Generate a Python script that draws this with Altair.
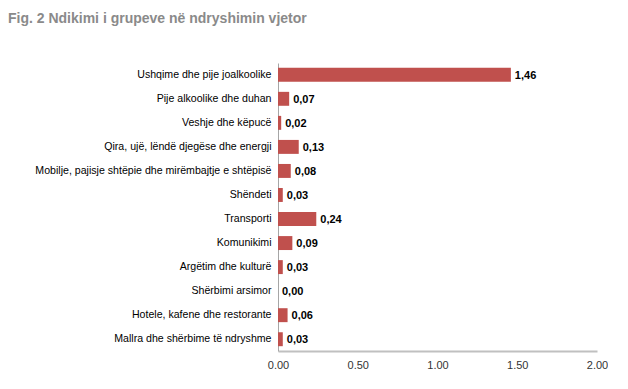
import altair as alt
import pandas as pd

categories = [
    "Ushqime dhe pije joalkoolike",
    "Pije alkoolike dhe duhan",
    "Veshje dhe këpucë",
    "Qira, ujë, lëndë djegëse dhe energji",
    "Mobilje, pajisje shtëpie dhe mirëmbajtje e shtëpisë",
    "Shëndeti",
    "Transporti",
    "Komunikimi",
    "Argëtim dhe kulturë",
    "Shërbimi arsimor",
    "Hotele, kafene dhe restorante",
    "Mallra dhe shërbime të ndryshme",
]
values = [1.46, 0.07, 0.02, 0.13, 0.08, 0.03, 0.24, 0.09, 0.03, 0.00, 0.06, 0.03]
x_ticks = [0, 0.5, 1.0, 1.5, 2.0]

df = pd.DataFrame({"cat": categories, "v": values})

FONT = "Liberation Sans"

base = alt.Chart(df).transform_calculate(
    label="replace(format(datum.v, '.2f'), '.', ',')"
)

y_enc = alt.Y(
    "cat:N",
    sort=categories,
    title=None,
    scale=alt.Scale(paddingInner=0.42, paddingOuter=0.2),
    axis=alt.Axis(
        ticks=False,
        domainColor="#a6a6a6",
        domainWidth=1,
        labelFont=FONT,
        labelFontSize=10.6,
        labelColor="#000000",
        labelPadding=7,
        labelLimit=300,
        minExtent=270,
        maxExtent=270,
    ),
)

x_enc = alt.X(
    "v:Q",
    title=None,
    scale=alt.Scale(domain=[0, 2]),
    axis=alt.Axis(
        values=x_ticks,
        format=".2f",
        grid=False,
        ticks=False,
        domainColor="#c0c0c0",
        domainWidth=2,
        labelFont=FONT,
        labelFontSize=11,
        labelColor="#333333",
        labelPadding=8,
        labelFlush=False,
    ),
)

bars = base.mark_bar(color="#C0504D").encode(x=x_enc, y=y_enc)

text = base.mark_text(
    align="left", baseline="middle", dx=4, dy=1,
    font=FONT, fontSize=11, fontWeight="bold", color="#000000"
).encode(x=x_enc, y=y_enc, text="label:N")

chart = (bars + text).properties(
    width=319,
    height=288,
    title=alt.TitleParams(
        "Fig. 2 Ndikimi i grupeve në ndryshimin vjetor",
        anchor="start",
        frame="bounds",
        font=FONT,
        fontSize=14,
        fontWeight="bold",
        color="#8a8a8a",
        offset=37,
    ),
).configure(
    padding={"top": 4, "left": 0, "right": 0, "bottom": 0},
    view=alt.ViewConfig(stroke=None),
)

chart.save("out.html", embed_options={"renderer": "svg", "actions": False})
